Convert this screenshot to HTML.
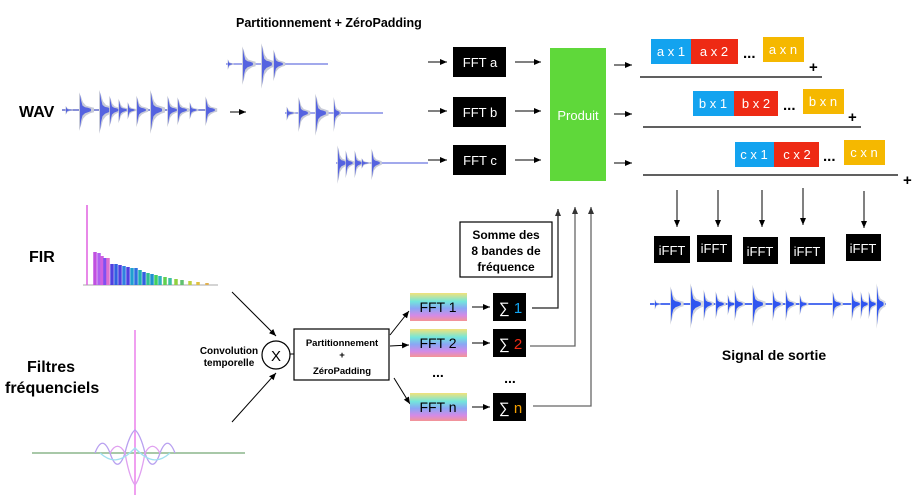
<!DOCTYPE html>
<html><head><meta charset="utf-8"><style>
body{margin:0;background:#fff}
svg{display:block;font-family:"Liberation Sans",sans-serif}
.b{font-weight:bold}
</style></head><body>
<svg width="923" height="502" viewBox="0 0 923 502" xmlns="http://www.w3.org/2000/svg">
<defs>
<marker id="ar" markerWidth="8" markerHeight="8" refX="7" refY="4" orient="auto" markerUnits="userSpaceOnUse"><path d="M0,1 L7,4 L0,7 z" fill="#000"/></marker>
<marker id="ag" markerWidth="8" markerHeight="8" refX="7" refY="4" orient="auto" markerUnits="userSpaceOnUse"><path d="M0,1 L7,4 L0,7 z" fill="#333"/></marker>
<g id="burst">
<path d="M-1,-16L-1,19 L1,14 L3,8 L6,5 L10,3 L14,2 L14,-2 L10,-3 L6,-4 L3,-7 L1,-12 Z" fill="#c8cbd8"/>
<path d="M0,-14L0,16 L1,10 L2.5,5 L5,3 L8,2 L11,1 L11,-1 L8,-2 L5,-2.5 L2.5,-4 L1,-9 Z" fill="#5563e0"/>
</g>
<g id="bburst">
<path d="M-1,-16L-1,19 L1,14 L3,8 L6,5 L10,3 L14,2 L14,-2 L10,-3 L6,-4 L3,-7 L1,-12 Z" fill="#d4d7e0"/>
<path d="M0,-14L0,16 L1,10 L2.5,5 L5,3 L8,2 L11,1 L11,-1 L8,-2 L5,-2.5 L2.5,-4 L1,-9 Z" fill="#2f55f0"/>
</g>
<linearGradient id="rg" x1="0" y1="0" x2="0" y2="1">
<stop offset="0" stop-color="#f2e27a"/><stop offset="0.3" stop-color="#72e6dc"/><stop offset="0.55" stop-color="#8aa6f4"/><stop offset="0.8" stop-color="#d48ae6"/><stop offset="1" stop-color="#f49494"/>
</linearGradient>
</defs>

<text x="236" y="27" class="b" font-size="12.5">Partitionnement + ZéroPadding</text>

<text x="19" y="117" class="b" font-size="16">WAV</text>
<line x1="62" y1="110" x2="215" y2="110" stroke="#8890d8" stroke-width="2"/>
<use href="#burst" transform="translate(66,110) scale(0.5,0.25)"/>
<use href="#burst" transform="translate(80,110) scale(1,1.1)"/>
<use href="#burst" transform="translate(100,110) scale(1,1.25)"/>
<use href="#burst" transform="translate(110,110) scale(0.8,0.9)"/>
<use href="#burst" transform="translate(119,110) scale(0.7,0.7)"/>
<use href="#burst" transform="translate(128,110) scale(0.6,0.5)"/>
<use href="#burst" transform="translate(137,110) scale(0.8,0.9)"/>
<use href="#burst" transform="translate(151,110) scale(1,1.25)"/>
<use href="#burst" transform="translate(168,110) scale(0.8,0.9)"/>
<use href="#burst" transform="translate(178,110) scale(0.8,0.8)"/>
<use href="#burst" transform="translate(190,110) scale(0.6,0.5)"/>
<use href="#burst" transform="translate(206,110) scale(0.8,0.85)"/>
<line x1="230" y1="112" x2="246" y2="112" stroke="#000" marker-end="url(#ar)"/>

<line x1="226" y1="64" x2="328" y2="64" stroke="#6a76e0" stroke-width="1.2"/>
<use href="#burst" transform="translate(228,64) scale(0.4,0.3)"/>
<use href="#burst" transform="translate(243,64) scale(0.9,1.1)"/>
<use href="#burst" transform="translate(262,64) scale(0.9,1.3)"/>
<use href="#burst" transform="translate(274,64) scale(0.8,0.9)"/>
<line x1="285" y1="113" x2="383" y2="113" stroke="#6a76e0" stroke-width="1.2"/>
<use href="#burst" transform="translate(287,113) scale(0.6,0.4)"/>
<use href="#burst" transform="translate(299,113) scale(0.8,1.0)"/>
<use href="#burst" transform="translate(316,113) scale(0.9,1.2)"/>
<use href="#burst" transform="translate(334,113) scale(0.5,1.0)"/>
<line x1="336" y1="163" x2="428" y2="163" stroke="#6a76e0" stroke-width="1.2"/>
<use href="#burst" transform="translate(338,163) scale(0.7,1.1)"/>
<use href="#burst" transform="translate(346,163) scale(0.6,0.8)"/>
<use href="#burst" transform="translate(355,163) scale(0.6,0.8)"/>
<use href="#burst" transform="translate(362,163) scale(0.6,0.3)"/>
<use href="#burst" transform="translate(372,163) scale(0.7,0.9)"/>

<g stroke="#000" marker-end="url(#ar)">
<line x1="428" y1="62" x2="447" y2="62"/><line x1="428" y1="111" x2="447" y2="111"/><line x1="428" y1="160" x2="447" y2="160"/>
<line x1="515" y1="62" x2="541" y2="62"/><line x1="515" y1="111" x2="541" y2="111"/><line x1="515" y1="160" x2="541" y2="160"/>
<line x1="614" y1="65" x2="632" y2="65"/><line x1="614" y1="114" x2="632" y2="114"/><line x1="614" y1="163" x2="632" y2="163"/>
</g>
<rect x="453" y="47" width="53" height="30" fill="#000"/>
<rect x="453" y="97" width="53" height="30" fill="#000"/>
<rect x="453" y="145" width="53" height="30" fill="#000"/>
<g fill="#fff" font-size="13" text-anchor="middle">
<text x="480" y="67">FFT a</text><text x="480" y="117">FFT b</text><text x="480" y="165">FFT c</text>
</g>
<rect x="550" y="48" width="56" height="133" fill="#5fd83a"/>
<text x="578" y="120" fill="#fff" font-size="13" text-anchor="middle">Produit</text>

<g font-size="13" fill="#fff" text-anchor="middle">
<rect x="651" y="39" width="40" height="25" fill="#13a3ef"/><text x="671" y="56">a x 1</text>
<rect x="691" y="39" width="47" height="25" fill="#ee2a14"/><text x="714" y="56">a x 2</text>
<rect x="763" y="37" width="41" height="25" fill="#f5b800"/><text x="783" y="54">a x n</text>
<rect x="693" y="91" width="41" height="25" fill="#13a3ef"/><text x="713" y="108">b x 1</text>
<rect x="734" y="91" width="44" height="25" fill="#ee2a14"/><text x="756" y="108">b x 2</text>
<rect x="803" y="89" width="41" height="25" fill="#f5b800"/><text x="823" y="106">b x n</text>
<rect x="735" y="142" width="39" height="25" fill="#13a3ef"/><text x="754" y="159">c x 1</text>
<rect x="774" y="142" width="45" height="25" fill="#ee2a14"/><text x="797" y="159">c x 2</text>
<rect x="844" y="140" width="41" height="25" fill="#f5b800"/><text x="864" y="157">c x n</text>
</g>
<g class="b" font-size="15">
<text x="743" y="58">...</text><text x="783" y="110">...</text><text x="823" y="161">...</text>
<text x="809" y="72">+</text><text x="848" y="122">+</text><text x="903" y="185">+</text>
</g>
<g stroke="#000" stroke-width="1.3">
<line x1="640" y1="77" x2="822" y2="77"/><line x1="643" y1="127" x2="861" y2="127"/><line x1="643" y1="175" x2="898" y2="175"/>
</g>

<g stroke="#000" marker-end="url(#ar)">
<line x1="677" y1="190" x2="677" y2="227"/><line x1="718" y1="190" x2="718" y2="227"/><line x1="762" y1="190" x2="762" y2="227"/><line x1="803" y1="188" x2="803" y2="225"/><line x1="864" y1="191" x2="864" y2="228"/>
</g>
<rect x="654" y="236" width="36" height="27" fill="#000"/>
<rect x="697" y="235" width="35" height="27" fill="#000"/>
<rect x="743" y="237" width="35" height="27" fill="#000"/>
<rect x="790" y="237" width="35" height="27" fill="#000"/>
<rect x="846" y="234" width="35" height="27" fill="#000"/>
<g fill="#fff" font-size="13" text-anchor="middle">
<text x="672" y="255">iFFT</text><text x="714" y="253">iFFT</text><text x="760" y="256">iFFT</text><text x="807" y="256">iFFT</text><text x="863" y="253">iFFT</text>
</g>
<line x1="650" y1="304" x2="886" y2="304" stroke="#5070f0" stroke-width="2"/>
<use href="#bburst" transform="translate(655,304) scale(0.4,0.3)"/>
<use href="#bburst" transform="translate(671,304) scale(0.9,1.1)"/>
<use href="#bburst" transform="translate(691,304) scale(0.9,1.3)"/>
<use href="#bburst" transform="translate(704,304) scale(0.7,0.9)"/>
<use href="#bburst" transform="translate(716,304) scale(0.7,0.8)"/>
<use href="#bburst" transform="translate(728,304) scale(0.6,0.6)"/>
<use href="#bburst" transform="translate(735,304) scale(0.7,0.9)"/>
<use href="#bburst" transform="translate(753,304) scale(0.9,1.2)"/>
<use href="#bburst" transform="translate(773,304) scale(0.7,0.9)"/>
<use href="#bburst" transform="translate(786,304) scale(0.7,0.9)"/>
<use href="#bburst" transform="translate(800,304) scale(0.6,0.6)"/>
<use href="#bburst" transform="translate(833,304) scale(0.7,0.8)"/>
<use href="#bburst" transform="translate(852,304) scale(0.7,0.9)"/>
<use href="#bburst" transform="translate(861,304) scale(0.6,0.8)"/>
<use href="#bburst" transform="translate(869,304) scale(0.6,0.8)"/>
<use href="#bburst" transform="translate(877,304) scale(0.6,1.3)"/>
<text x="774" y="360" class="b" font-size="14" text-anchor="middle">Signal de sortie</text>

<text x="29" y="262" class="b" font-size="16">FIR</text>
<line x1="83" y1="285" x2="218" y2="285" stroke="#aaa"/>
<line x1="87" y1="205" x2="87" y2="285" stroke="#e060e0" stroke-width="1.5"/>
<g stroke-width="3.5">
<line x1="95" y1="252" x2="95" y2="285" stroke="#c050e0"/>
<line x1="99" y1="253" x2="99" y2="285" stroke="#b060f0"/>
<line x1="102" y1="256" x2="102" y2="285" stroke="#d060e0"/>
<line x1="105" y1="258" x2="105" y2="285" stroke="#8050f0"/>
<line x1="108" y1="258" x2="108" y2="285" stroke="#e070d0"/>
<line x1="112" y1="264" x2="112" y2="285" stroke="#5040e0"/>
<line x1="116" y1="264" x2="116" y2="285" stroke="#3060e0"/>
<line x1="120" y1="265" x2="120" y2="285" stroke="#5040e0"/>
<line x1="124" y1="266" x2="124" y2="285" stroke="#3080e0"/>
<line x1="128" y1="267" x2="128" y2="285" stroke="#5040e0"/>
<line x1="132" y1="268" x2="132" y2="285" stroke="#20a0d0"/>
<line x1="136" y1="268" x2="136" y2="285" stroke="#3070e0"/>
<line x1="140" y1="270" x2="140" y2="285" stroke="#20b0b0"/>
<line x1="144" y1="272" x2="144" y2="285" stroke="#3060e0"/>
<line x1="148" y1="273" x2="148" y2="285" stroke="#30c090"/>
<line x1="152" y1="274" x2="152" y2="285" stroke="#2090d0"/>
<line x1="156" y1="275" x2="156" y2="285" stroke="#40d060"/>
<line x1="160" y1="276" x2="160" y2="285" stroke="#30b0c0"/>
<line x1="165" y1="277" x2="165" y2="285" stroke="#60d050"/>
<line x1="170" y1="278" x2="170" y2="285" stroke="#40c0a0"/>
<line x1="176" y1="279" x2="176" y2="285" stroke="#90d040"/>
<line x1="182" y1="280" x2="182" y2="285" stroke="#60c070"/>
<line x1="190" y1="281" x2="190" y2="285" stroke="#c0d040"/>
<line x1="198" y1="282" x2="198" y2="285" stroke="#e0c040"/>
<line x1="207" y1="283" x2="207" y2="285" stroke="#e0b050"/>
</g>

<text x="27" y="372" class="b" font-size="16">Filtres</text>
<text x="5" y="393" class="b" font-size="16">fréquenciels</text>
<line x1="32" y1="453" x2="245" y2="453" stroke="#a8c8a8" stroke-width="2"/>
<line x1="135" y1="330" x2="135" y2="495" stroke="#f0a0f0" stroke-width="2"/>
<path d="M95,453 C100,440 105,440 110,453 C115,468 120,468 125,453 C128,440 132,432 135,430 C138,432 142,440 145,453 C150,468 155,468 160,453 C165,440 170,440 175,453" fill="none" stroke="#b8a0f0" stroke-width="1.3"/>
<path d="M110,453 C115,444 120,444 125,453 C128,470 131,480 135,485 C139,480 142,470 145,453 C150,444 155,444 160,453" fill="none" stroke="#e0a0f0" stroke-width="1.3"/>
<path d="M100,453 C110,462 120,464 135,448 C150,464 160,462 170,453" fill="none" stroke="#a0e0f0" stroke-width="1.3"/>

<line x1="232" y1="292" x2="276" y2="336" stroke="#000" marker-end="url(#ar)"/>
<line x1="232" y1="422" x2="276" y2="373" stroke="#000" marker-end="url(#ar)"/>
<circle cx="276" cy="355" r="14" fill="#fff" stroke="#000" stroke-width="1.2"/>
<text x="276" y="361" font-size="15" text-anchor="middle">X</text>
<text x="229" y="354" class="b" font-size="10" text-anchor="middle">Convolution</text>
<text x="229" y="366" class="b" font-size="10" text-anchor="middle">temporelle</text>
<line x1="290" y1="354" x2="294" y2="354" stroke="#000"/>
<rect x="294" y="329" width="95" height="51" fill="#fff" stroke="#000" stroke-width="1.2"/>
<g class="b" font-size="9.5" text-anchor="middle">
<text x="342" y="346">Partitionnement</text><text x="342" y="358">+</text><text x="342" y="374">ZéroPadding</text>
</g>
<g stroke="#000" marker-end="url(#ar)">
<line x1="390" y1="335" x2="409" y2="311"/>
<line x1="390" y1="346" x2="409" y2="345"/>
<line x1="394" y1="378" x2="410" y2="404"/>
<line x1="472" y1="307" x2="490" y2="307"/>
<line x1="472" y1="343" x2="490" y2="343"/>
<line x1="472" y1="407" x2="490" y2="407"/>
</g>
<rect x="410" y="293" width="57" height="28" fill="url(#rg)"/>
<rect x="410" y="329" width="57" height="28" fill="url(#rg)"/>
<rect x="410" y="393" width="57" height="28" fill="url(#rg)"/>
<g font-size="14" text-anchor="middle">
<text x="438" y="312">FFT 1</text><text x="438" y="348">FFT 2</text><text x="438" y="412">FFT n</text>
</g>
<text x="438" y="377" class="b" font-size="14" text-anchor="middle">...</text>
<text x="510" y="383" class="b" font-size="14" text-anchor="middle">...</text>
<rect x="493" y="293" width="33" height="28" fill="#000"/>
<rect x="493" y="329" width="33" height="28" fill="#000"/>
<rect x="493" y="393" width="33" height="28" fill="#000"/>
<g font-size="15">
<text x="499" y="313" fill="#fff">∑ <tspan fill="#13a3ef">1</tspan></text>
<text x="499" y="349" fill="#fff">∑ <tspan fill="#ee2a14">2</tspan></text>
<text x="499" y="413" fill="#fff">∑ <tspan fill="#f5a000">n</tspan></text>
</g>
<g fill="none" stroke-width="1.3" marker-end="url(#ag)">
<polyline points="532,308 558,308 558,209" stroke="#222"/>
<polyline points="530,346 575,346 575,207" stroke="#666"/>
<polyline points="533,406 591,406 591,207" stroke="#666"/>
</g>
<rect x="460" y="222" width="92" height="55" fill="#fff" stroke="#000" stroke-width="1.2"/>
<g class="b" font-size="12" text-anchor="middle">
<text x="506" y="239">Somme des</text><text x="506" y="255">8 bandes de</text><text x="506" y="271">fréquence</text>
</g>
</svg>
</body></html>
